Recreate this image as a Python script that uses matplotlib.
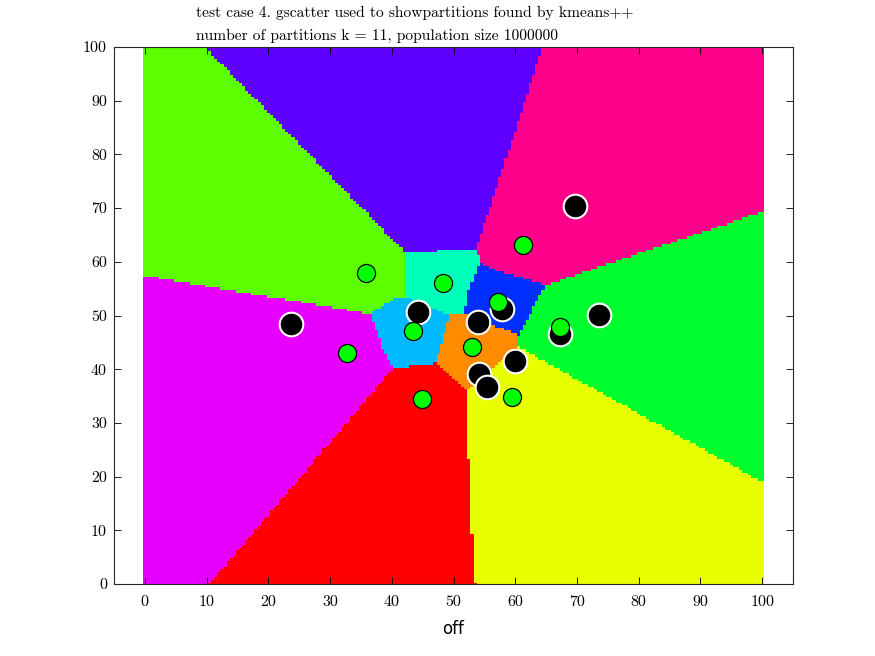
import colorsys
import numpy as np
import matplotlib
matplotlib.use("Agg")
from matplotlib import pyplot as plt
from matplotlib.path import Path
from matplotlib.colors import ListedColormap

# partition outlines, one per cluster (hsv(11) order)
reg_red = [(10.5, 0), (53.4, 0), (52.6, 18.7), (52.2, 36), (47, 41), (40.2, 40.2)]
reg_orange = [(47, 41), (52.2, 36), (60.4, 44.2), (60.5, 46.3), (51.8, 50.5), (49.3, 50.1)]
reg_yellow = [(53.4, 0), (100, 0), (100, 19), (60.4, 44.2), (52.2, 36), (52.6, 18.7)]
reg_lgreen = [(0, 57.4), (36.4, 50.3), (40.5, 53.2), (42, 53.5), (42.3, 61.6), (9.7, 100), (0, 100)]
reg_green = [(60.4, 44.2), (100, 19), (100, 69.3), (65, 55.7), (60.5, 46.3)]
reg_teal = [(42, 53.5), (43, 53.2), (49.3, 50.1), (51.8, 50.5), (52.6, 55.4), (54.3, 59.8),
            (53.7, 62.5), (42.3, 61.6)]
reg_lblue = [(40.2, 40.2), (47, 41), (49.3, 50.1), (43, 53.2), (42, 53.5), (40.5, 53.2),
             (36.4, 50.3), (36.9, 49.2), (38.6, 43.6)]
reg_blue = [(51.8, 50.5), (60.5, 46.3), (65, 55.7), (62.3, 56.6), (56.9, 58.5), (54.3, 59.8),
            (52.6, 55.4)]
reg_violet = [(9.7, 100), (42.3, 61.6), (53.7, 62.5), (64.5, 100)]
reg_magenta = [(0, 0), (10.5, 0), (40.2, 40.2), (38.6, 43.6), (36.9, 49.2), (36.4, 50.3), (0, 57.4)]
reg_pink = [(53.7, 62.5), (54.3, 59.8), (56.9, 58.5), (62.3, 56.6), (65, 55.7), (100, 69.3),
            (100, 100), (64.5, 100)]
regions = [reg_red, reg_orange, reg_yellow, reg_lgreen, reg_green, reg_teal,
           reg_lblue, reg_blue, reg_violet, reg_magenta, reg_pink]

# black markers (white edge)
black_x = [23.6, 44.2, 53.9, 57.9, 60.0, 54.1, 55.5, 67.2, 73.5, 69.7]
black_y = [48.5, 50.7, 48.8, 51.3, 41.6, 39.1, 36.6, 46.6, 50.1, 70.4]
# green markers (black edge)
green_x = [35.9, 48.3, 57.2, 43.4, 53.0, 44.9, 59.5, 61.2, 32.8, 67.3]
green_y = [57.9, 56.0, 52.6, 47.2, 44.1, 34.4, 34.8, 63.1, 43.1, 47.8]

xticks = list(range(0, 101, 10))
yticks = list(range(0, 101, 10))
title_lines = ["test case 4. gscatter used to showpartitions found by kmeans++",
               "number of partitions k = 11, population size 1000000"]

colors = [colorsys.hsv_to_rgb(i / 11.0, 1, 1) for i in range(11)]

# label a grid of points by the region that holds them
xs = np.arange(0, 100.01, 0.5)
X, Y = np.meshgrid(xs, xs)
pts = np.column_stack([X.ravel(), Y.ravel()])
lab = np.full(len(pts), -1)
for scale in [1.0, 1.03, 1.08]:
    for i, poly in enumerate(regions):
        p = np.array(poly, dtype=float)
        c = p.mean(axis=0)
        p = c + (p - c) * scale
        inside = Path(p).contains_points(pts)
        lab[(lab < 0) & inside] = i
lab = np.ma.masked_less(lab.reshape(X.shape), 0)

fig = plt.figure(figsize=(8.75, 6.56), dpi=100)
ax = fig.add_axes([114 / 875, 72 / 656, 679 / 875, 537 / 656])
ax.pcolormesh(xs, xs, lab, cmap=ListedColormap(colors), vmin=-0.5, vmax=10.5,
              shading='nearest', rasterized=True)

ax.plot(black_x, black_y, 'o', ms=17, mfc='black', mec='white', mew=1.5, ls='none')
ax.plot(green_x, green_y, 'o', ms=13, mfc=(0, 1, 0), mec='black', mew=0.9, ls='none')

ax.set_xlim(-5, 105)
ax.set_ylim(0, 100)
ax.set_xticks(xticks)
ax.set_yticks(yticks)
ax.tick_params(direction='in', top=True, right=True, length=5, width=0.6, labelsize=11.5)
for lbl in ax.get_xticklabels() + ax.get_yticklabels():
    lbl.set_family('cmr10')
ax.tick_params(axis='x', pad=8)
ax.tick_params(axis='y', pad=5)
for s in ax.spines.values():
    s.set_linewidth(0.8)
    s.set_color('#262626')
ax.set_xlabel('off', fontsize=12, family='DejaVu Sans', labelpad=8)

fig.text(196 / 875, 1 - 6 / 656, "\n".join(title_lines), ha='left', va='top',
         fontsize=11.2, family='cmr10', linespacing=1.75)

fig.savefig('out.png', dpi=100)
